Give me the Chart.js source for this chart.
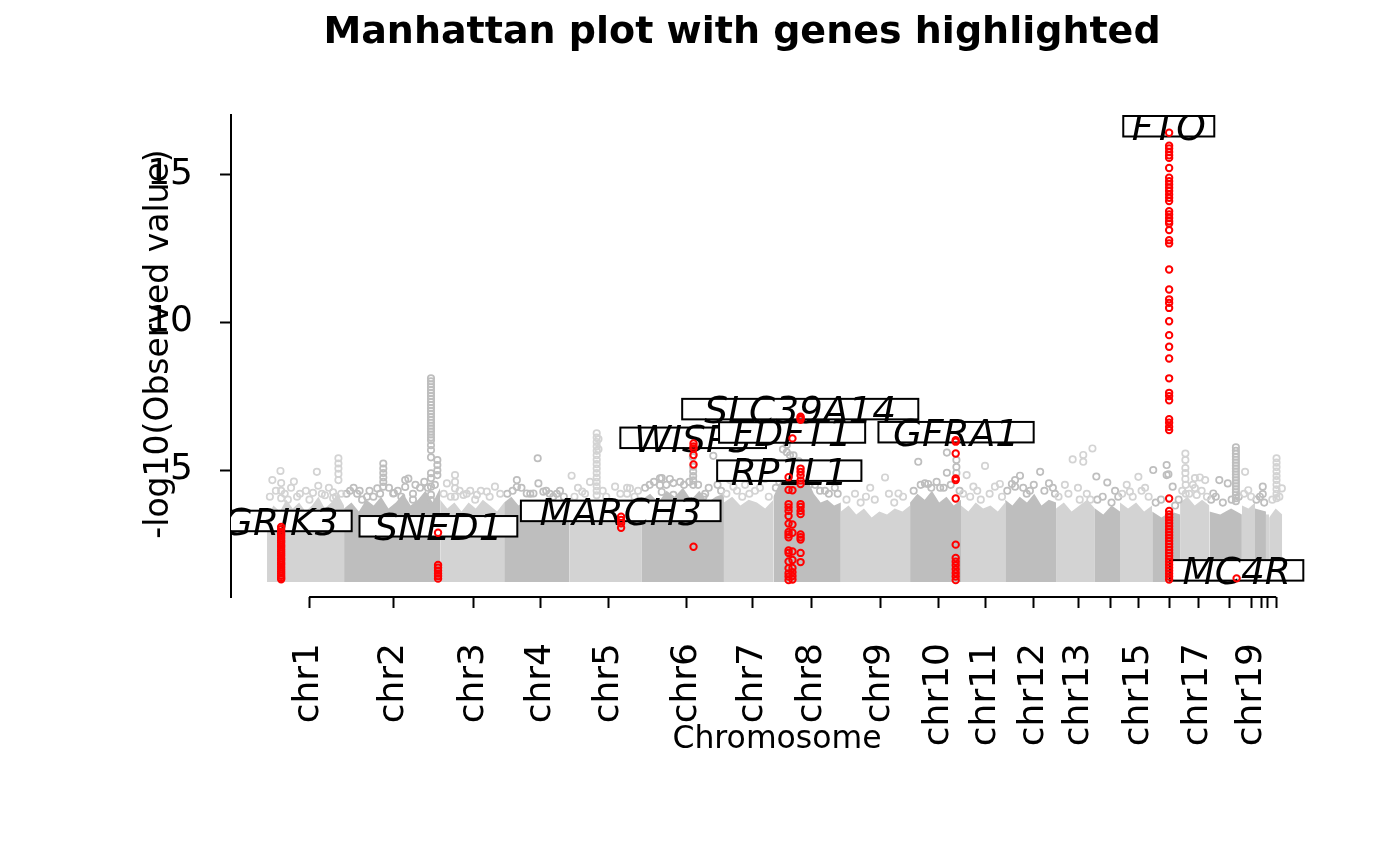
<!DOCTYPE html>
<html>
<head>
<meta charset="utf-8">
<script src="https://cdn.jsdelivr.net/npm/chart.js@4.4.1/dist/chart.umd.min.js"></script>
<style>
  html, body { margin: 0; padding: 0; background: #fff; }
</style>
</head>
<body>
<canvas id="myChart" width="1400" height="866"></canvas>
<script>
// chromosome layout along the genome (cumulative position, Mb)
const chromosomes = ['chr1','chr2','chr3','chr4','chr5','chr6','chr7','chr8','chr9','chr10','chr11',
    'chr12','chr13','chr14','chr15','chr16','chr17','chr18','chr19','chr20','chr21','chr22'];
// R drops the labels that would overlap
const tickLabels = ['chr1','chr2','chr3','chr4','chr5','chr6','chr7','chr8','chr9','chr10','chr11',
    'chr12','chr13','','chr15','','chr17','','chr19','','',''];
const chrTicks = [119, 357, 585, 775, 967, 1187, 1375, 1540, 1735, 1900, 2034,
    2170, 2297, 2387, 2467, 2553, 2635, 2723, 2787, 2815, 2831, 2856];
const chrEdges = [0, 218, 490, 671, 855, 1061, 1293, 1433, 1624, 1820, 1964, 2089,
    2233, 2343, 2414, 2505, 2584, 2667, 2759, 2796, 2827, 2836, 2873];
const chrShade = ['L','D','L','D','L','D','L','D','L','D','L','D','L','D','L','D','L','D','L','D','L','L'];

// top of the dense cloud of SNPs in each chromosome (-log10 p)
const bandTops = [
    [3.4, 3.8, 3.6, 4.0, 3.7, 3.9, 3.6, 3.8, 4.1, 3.7, 3.9, 4.2, 3.8],
    [3.7, 3.9, 3.6, 4.0, 3.8, 4.1, 3.7, 3.9, 4.2, 3.8, 4.0, 4.3, 3.9, 4.4],
    [4.0, 3.7, 3.9, 3.6, 3.9, 3.7, 4.0, 3.8, 3.6, 3.9],
    [3.9, 4.1, 3.8, 4.0, 3.7, 4.0, 3.8, 3.9, 3.6, 3.8],
    [3.6, 3.9, 3.7, 4.0, 3.8, 3.6, 3.9, 3.7, 3.5, 3.8, 3.6],
    [4.0, 4.2, 3.9, 4.3, 4.1, 4.4, 4.0, 4.3, 3.9, 4.1, 4.2],
    [3.9, 4.1, 3.8, 4.0, 3.9, 3.7, 4.0],
    [4.1, 4.6, 5.2, 4.9, 5.4, 4.7, 4.2, 3.9, 4.0, 3.8, 3.9],
    [3.6, 3.8, 3.5, 3.7, 3.4, 3.6, 3.5, 3.7, 3.6, 3.8],
    [3.9, 4.2, 4.0, 4.3, 3.9, 4.1, 3.8, 4.0],
    [3.8, 3.6, 3.9, 3.7, 3.8, 3.6, 3.9],
    [4.0, 3.8, 4.1, 3.9, 4.2, 3.8, 4.0, 3.9],
    [3.7, 3.9, 3.6, 3.8, 4.0, 3.7],
    [3.7, 3.5, 3.8, 3.6],
    [3.9, 3.7, 3.9, 3.6, 3.8],
    [3.6, 3.4, 3.6, 3.5],
    [3.9, 4.1, 3.8, 4.0, 3.8],
    [3.6, 3.5, 3.7, 3.5],
    [3.8, 3.7, 3.9],
    [3.7, 3.6],
    [3.5, 3.5],
    [3.4, 3.7, 3.5]
];

// SNPs standing out above the cloud: [position, -log10 p]
const grayLight = [
    [8,4.1],[25,4.3],[50,4.2],[68,4.4],[85,4.1],[110,4.3],[120,4.0],[155,4.2],[175,4.4],[195,4.1],[210,4.2],
    [15,4.66],[38,4.97],[40,4.56],[40,4.30],[40,4.05],[59,4.00],[76,4.61],[93,4.20],[130,4.23],[141,4.94],
    [145,4.47],[164,4.15],[187,4.25],[187,4.05],[202,5.40],[202,5.22],[202,5.05],[202,4.87],[202,4.66],
    [500,4.2],[520,4.1],[545,4.3],[565,4.2],[605,4.3],[630,4.1],[660,4.2],
    [509,4.55],[532,4.83],[532,4.60],[532,4.38],[532,4.10],[556,4.16],[575,4.30],[589,4.00],[594,4.16],
    [622,4.27],[645,4.44],
    [870,4.1],[880,4.4],[900,4.2],[950,4.3],[960,4.1],[1000,4.2],[1040,4.1],[1050,4.3],
    [862,4.81],[892,4.27],[914,4.60],[933,6.24],[933,6.10],[933,5.95],[933,5.80],[933,5.65],[933,5.50],
    [933,5.35],[933,5.20],[933,5.05],[933,4.90],[933,4.75],[933,4.60],[933,4.45],[933,4.30],[933,4.15],
    [938,6.05],[938,5.70],[985,4.44],[1019,4.40],[1019,4.20],[1027,4.38],
    [1300,4.2],[1330,4.3],[1345,4.1],[1365,4.2],[1395,4.4],[1420,4.1],
    [1310,4.66],[1320,4.44],[1353,4.50],[1381,4.30],[1409,4.70],
    [1640,4.0],[1680,3.9],[1695,4.1],[1720,4.0],[1760,4.2],[1775,3.9],[1800,4.1],
    [1664,4.20],[1707,4.40],[1749,4.75],[1787,4.21],
    [1970,4.2],[1990,4.1],[2010,4.3],[2020,4.0],[2045,4.2],[2080,4.1],
    [1980,4.83],[1999,4.44],[2032,5.14],[2060,4.44],[2074,4.53],
    [2240,4.1],[2268,4.2],[2300,4.0],[2320,4.2],[2330,4.0],
    [2258,4.50],[2280,5.36],[2295,4.40],[2310,5.51],[2310,5.28],[2336,5.73],
    [2420,4.2],[2450,4.1],[2475,4.3],[2495,4.1],
    [2433,4.50],[2442,4.27],[2466,4.77],[2485,4.40],
    [2590,4.3],[2610,4.2],[2620,4.5],[2645,4.3],[2660,4.1],
    [2599,5.56],[2599,5.34],[2599,5.07],[2599,4.90],[2599,4.70],[2600,4.50],[2600,4.20],[2626,4.73],
    [2626,4.39],[2631,4.16],[2640,4.75],[2655,4.66],
    [2765,4.2],[2785,4.1],[2768,4.94],[2777,4.32],
    [2845,4.0],[2865,4.1],
    [2857,5.40],[2857,5.25],[2857,5.10],[2857,4.95],[2857,4.80],[2857,4.66],[2857,4.50],[2857,4.35],
    [2857,4.20],[2857,4.05],[2872,4.38]
];
const grayDark = [
    [225,4.2],[245,4.4],[262,4.3],[290,4.3],[320,4.2],[345,4.4],[370,4.3],[380,4.1],[420,4.5],[445,4.6],
    [455,4.4],[475,4.5],
    [235,4.30],[255,4.20],[269,4.00],[283,4.10],[301,4.10],[312,4.38],[329,5.22],[329,5.05],[329,4.90],
    [329,4.75],[329,4.60],[329,4.44],[357,4.21],[359,4.22],[391,4.66],[391,4.43],[400,4.71],[413,4.20],
    [413,4.00],[433,4.40],
    [464,8.10],[464,8.00],[464,7.90],[464,7.80],[464,7.70],[464,7.60],[464,7.50],[464,7.40],[464,7.30],
    [464,7.20],[464,7.10],[464,7.00],[464,6.90],[464,6.80],[464,6.70],[464,6.60],[464,6.50],[464,6.40],
    [464,6.30],[464,6.20],[464,6.10],[464,6.01],[464,5.84],[464,5.68],[464,5.43],[464,4.89],[464,4.73],
    [464,4.44],[464,4.16],[464,3.99],
    [482,5.34],[482,5.17],[482,4.99],[482,4.83],
    [680,4.2],[695,4.3],[720,4.4],[745,4.2],[790,4.3],[800,4.2],[820,4.2],[840,4.1],
    [707,4.66],[707,4.43],[735,4.21],[754,4.21],[766,5.40],[768,4.55],[782,4.27],[810,4.10],[829,4.30],
    [1070,4.4],[1095,4.6],[1130,4.5],[1140,4.7],[1180,4.5],[1195,4.6],[1220,4.5],[1250,4.4],[1275,4.5],
    [1285,4.3],
    [1083,4.50],[1112,4.72],[1112,4.49],[1117,4.73],[1117,4.26],[1150,4.56],[1150,4.16],[1169,4.60],
    [1205,5.44],[1206,5.11],[1206,4.95],[1206,4.80],[1206,4.65],[1206,4.50],[1235,4.10],[1240,4.20],[1263,5.48],
    [1440,4.4],[1450,4.6],[1490,5.5],[1505,5.3],[1515,5.0],[1535,4.5],[1565,4.3],[1590,4.2],[1615,4.2],
    [1460,5.70],[1471,5.85],[1471,5.60],[1480,5.50],[1494,5.30],[1500,5.10],[1523,4.80],[1551,4.50],
    [1579,4.30],[1607,4.40],
    [1830,4.3],[1850,4.5],[1880,4.4],[1895,4.6],[1915,4.4],[1935,4.5],[1960,4.3],
    [1843,5.28],[1862,4.55],[1871,4.53],[1905,4.40],[1924,5.59],[1924,4.91],[1951,5.34],[1951,5.10],[1951,4.90],
    [2095,4.3],[2140,4.4],[2150,4.2],[2170,4.5],[2200,4.3],[2230,4.2],
    [2108,4.53],[2117,4.66],[2117,4.44],[2131,4.81],[2159,4.30],[2188,4.94],[2213,4.55],[2224,4.40],
    [2350,4.0],[2365,4.1],[2390,3.9],
    [2347,4.78],[2378,4.58],[2400,4.30],[2409,4.10],
    [2515,3.9],[2530,4.0],[2570,3.8],[2580,4.0],
    [2508,5.00],[2546,5.17],[2546,4.83],[2551,4.86],[2563,4.44],
    [2672,4.0],[2685,4.1],[2705,3.9],[2730,4.0],[2750,4.1],
    [2678,4.21],[2695,4.66],[2719,4.55],
    [2742,5.77],[2742,5.65],[2742,5.55],[2742,5.45],[2742,5.35],[2742,5.25],[2742,5.15],[2742,5.05],
    [2742,4.95],[2742,4.85],[2742,4.75],[2742,4.65],[2742,4.55],[2742,4.45],[2742,4.35],[2742,4.25],
    [2742,4.15],[2742,4.05],[2742,3.95],
    [2800,4.0],[2810,4.1],[2822,3.9],
    [2818,4.44],[2818,4.19]
];

// highlighted genes
const genes = ['GRIK3','SNED1','MARCH3','WISP3','RP1L1','FDFT1','SLC39A14','GFRA1','FTO','MC4R'];
const genePos = [40, 484, 1002, 1207, 1476, 1487, 1510, 1949, 2553, 2744];
const labelPos = [40, 485, 1001, 1206, 1478, 1486, 1509, 1950, 2552, 2744];
const labelY = [3.28, 3.10, 3.62, 6.09, 4.98, 6.27, 7.06, 6.28, 16.62, 1.61];
const geneHits = [
    [3.08, 3.00, 2.92, 2.85, 2.78, 2.70, 2.62, 2.55, 2.47, 2.40, 2.32, 2.25, 2.17, 2.10, 2.02, 1.95,
     1.87, 1.80, 1.72, 1.65, 1.57, 1.50, 1.43, 1.36, 1.31],
    [2.88, 1.79, 1.70, 1.60, 1.50, 1.42, 1.33],
    [3.42, 3.31, 3.20, 3.05],
    [5.90, 5.80, 5.73, 5.51, 5.19, 2.41],
    [4.76, 4.33, 3.85, 3.74, 3.62, 3.45, 3.19, 2.91, 2.82, 2.73, 2.28, 2.20, 1.91, 1.68, 1.51, 1.40, 1.28],
    [6.07, 4.32, 3.16, 2.88, 2.25, 1.96, 1.69, 1.55, 1.42, 1.30],
    [6.80, 6.75, 6.70, 5.05, 4.94, 4.82, 4.65, 4.53, 3.85, 3.75, 3.62, 3.51, 2.82, 2.73, 2.65, 2.20, 1.89],
    [6.01, 5.96, 5.56, 4.72, 4.66, 4.04, 2.48, 2.03, 1.90, 1.78, 1.65, 1.52, 1.40, 1.28],
    [16.40, 15.96, 15.87, 15.75, 15.64, 15.55, 15.21, 14.88, 14.76, 14.65, 14.54, 14.43, 14.31, 14.20,
     14.09, 13.75, 13.64, 13.52, 13.41, 13.33, 13.11, 12.77, 12.66, 11.78, 11.10, 10.77, 10.65, 10.48,
     10.03, 9.56, 9.17, 8.77, 8.10, 7.61, 7.50, 7.36, 6.72, 6.60, 6.46, 6.35, 4.04, 3.62, 3.50, 3.40,
     3.30, 3.20, 3.10, 3.00, 2.90, 2.80, 2.70, 2.60, 2.50, 2.40, 2.30, 2.20, 2.10, 2.00, 1.90, 1.80,
     1.70, 1.60, 1.50, 1.40, 1.30],
    [1.34]
];

const yTicks = [5, 10, 15];

const LIGHT = '#D3D3D3';
const DARK = '#BEBEBE';
const FONT = "'DejaVu Sans'";

function toPoints(arr) {
    return arr.map(p => ({ x: p[0], y: p[1] }));
}

// one filled area per chromosome for the dense part of the cloud
const bandSets = bandTops.map((tops, i) => ({
    label: chromosomes[i],
    order: 2,
    data: tops.map((v, k) => ({
        x: chrEdges[i] + (chrEdges[i + 1] - chrEdges[i]) * k / (tops.length - 1),
        y: v
    })),
    showLine: true,
    borderWidth: 0,
    borderColor: 'rgba(0,0,0,0)',
    backgroundColor: chrShade[i] === 'L' ? LIGHT : DARK,
    fill: { value: 1.22 },
    pointRadius: 0,
    tension: 0
}));

const pointStyle = {
    showLine: false,
    pointRadius: 3.2,
    pointBorderWidth: 1.7,
    pointBackgroundColor: 'rgba(0,0,0,0)'
};

const hitData = [];
genes.forEach((g, i) => geneHits[i].forEach(v => hitData.push({ x: genePos[i], y: v })));

function drawGeneLabels(chart) {
    const { ctx, chartArea, scales } = chart;
    ctx.save();
    ctx.beginPath();
    ctx.rect(chartArea.left, chartArea.top, chartArea.right - chartArea.left, chartArea.bottom - chartArea.top);
    ctx.clip();
    ctx.font = 'italic 37.5px ' + FONT;
    ctx.textAlign = 'center';
    ctx.textBaseline = 'alphabetic';
    genes.forEach((g, i) => {
        const cx = scales.x.getPixelForValue(labelPos[i]);
        const cy = scales.y.getPixelForValue(labelY[i]);
        const w = ctx.measureText(g).width * 1.23;
        const h = 20.5;
        ctx.fillStyle = '#fff';
        ctx.fillRect(cx - w / 2, cy - h / 2, w, h);
        ctx.strokeStyle = '#000';
        ctx.lineWidth = 2;
        ctx.strokeRect(cx - w / 2, cy - h / 2, w, h);
        ctx.fillStyle = '#000';
        ctx.fillText(g, cx, cy + 14);
    });
    ctx.restore();
}

const annotations = {
    id: 'annotations',
    beforeDatasetDraw(chart, args) {
        if (chart.data.datasets[args.index].label === 'Highlighted') drawGeneLabels(chart);
    },
    afterDraw(chart) {
        const { ctx, chartArea, scales } = chart;
        ctx.save();
        // x axis line spans first to last tick, like R's axis()
        ctx.strokeStyle = '#000';
        ctx.lineWidth = 2;
        ctx.beginPath();
        ctx.moveTo(scales.x.getPixelForValue(chrTicks[0]), chartArea.bottom);
        ctx.lineTo(scales.x.getPixelForValue(chrTicks[chrTicks.length - 1]), chartArea.bottom);
        ctx.stroke();

        ctx.fillStyle = '#000';
        ctx.textAlign = 'center';
        ctx.textBaseline = 'alphabetic';
        ctx.font = 'bold 38px ' + FONT;
        ctx.fillText('Manhattan plot with genes highlighted', 742, 43);

        ctx.font = '31.5px ' + FONT;
        ctx.fillText('Chromosome', 777, 748);

        ctx.font = '33px ' + FONT;
        ctx.translate(168, 344);
        ctx.rotate(-Math.PI / 2);
        ctx.fillText('-log10(Observed value)', 0, 0);
        ctx.restore();
    }
};

const ctx1 = document.getElementById('myChart').getContext('2d');
new Chart(ctx1, {
    type: 'line',
    data: {
        datasets: [
            Object.assign({
                label: 'Highlighted',
                order: 0,
                data: hitData,
                pointBorderColor: '#FF0000'
            }, pointStyle, { pointBorderWidth: 2.0 }),
            Object.assign({
                label: 'Light',
                order: 1,
                data: toPoints(grayLight),
                pointBorderColor: LIGHT
            }, pointStyle),
            Object.assign({
                label: 'Dark',
                order: 1,
                data: toPoints(grayDark),
                pointBorderColor: DARK
            }, pointStyle)
        ].concat(bandSets)
    },
    options: {
        responsive: false,
        animation: false,
        devicePixelRatio: 1,
        events: [],
        layout: { padding: { left: 0, right: 80, top: 115, bottom: 0 } },
        plugins: {
            legend: { display: false },
            tooltip: { enabled: false },
            title: { display: false }
        },
        scales: {
            x: {
                type: 'linear',
                min: -102,
                max: 2980,
                afterBuildTicks: s => { s.ticks = chrTicks.map(v => ({ value: v })); },
                afterFit: s => { s.height = 269; },
                border: { display: false },
                grid: { drawOnChartArea: false, drawTicks: true, tickLength: 11, tickWidth: 2, tickColor: '#000' },
                ticks: {
                    autoSkip: false,
                    minRotation: 90,
                    maxRotation: 90,
                    padding: 35,
                    color: '#000',
                    font: { family: FONT, size: 36 },
                    callback: (v, i) => tickLabels[i]
                }
            },
            y: {
                type: 'linear',
                min: 0.71,
                max: 17.0,
                afterBuildTicks: s => { s.ticks = yTicks.map(v => ({ value: v })); },
                afterFit: s => { s.width = 231; },
                border: { display: true, color: '#000', width: 2 },
                grid: { drawOnChartArea: false, drawTicks: true, tickLength: 11, tickWidth: 2, tickColor: '#000' },
                ticks: {
                    padding: 27,
                    color: '#000',
                    font: { family: FONT, size: 36 }
                }
            }
        }
    },
    plugins: [annotations]
});
</script>
</body>
</html>
